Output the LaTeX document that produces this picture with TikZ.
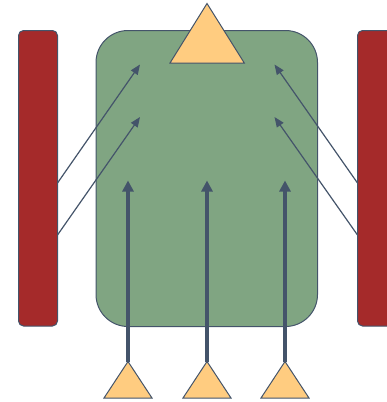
\documentclass[tikz,border=0pt]{standalone}
\usetikzlibrary{arrows.meta}
\definecolor{barred}{RGB}{165,42,42}
\definecolor{boxgreen}{RGB}{128,165,130}
\definecolor{triyellow}{RGB}{255,204,128}
\definecolor{edge}{RGB}{68,84,106}
\tikzset{
  bar/.style={draw=edge,line width=1pt,fill=barred,rounded corners=5pt},
  mainbox/.style={draw=edge,line width=1pt,fill=boxgreen,rounded corners=32pt},
  tri/.style={draw=edge,line width=1pt,fill=triyellow,line join=miter},
  thinarrow/.style={draw=edge,line width=1.2pt,-{Triangle[length=10pt,width=8pt]}},
  thickarrow/.style={draw=edge,line width=3.8pt,-{Triangle[length=11pt,width=11pt]}}
}
\begin{document}
\begin{tikzpicture}[x=1pt,y=-1pt]
\useasboundingbox (0,0) rectangle (387,402);
\clip (0,0) rectangle (387,402);
% bars
\draw[bar] (18.5,30.5) rectangle (57.5,326) coordinate (lbarcorner);
\draw[bar] (357.5,30.5) rectangle (396.5,326);
% main box
\draw[mainbox] (96,30.5) rectangle (317.5,326.5);
% top triangle
\draw[tri] (207,3.5) -- (244.3,63) -- (170,63) -- cycle;
% connector anchors
\coordinate (l1) at (57.5,183);
\coordinate (l2) at (57.5,235);
\coordinate (r1) at (357.5,183);
\coordinate (r2) at (357.5,235);
\coordinate (lt1) at (140,64.5);
\coordinate (lt2) at (140,117);
\coordinate (rt1) at (274.5,64.5);
\coordinate (rt2) at (274.5,117);
\foreach \n/\x in {a/128,b/207,c/285}{
  \coordinate (apex\n) at (\x,361.5);
  \coordinate (tip\n) at (\x,180.5);
}
% thick arrows
\foreach \n in {a,b,c}{
  \draw[thickarrow] (apex\n) -- (tip\n);
}
% bottom triangles
\foreach \x in {128,207,285}{
  \draw[tri] (\x,361.5) -- (\x+24,398) -- (\x-24,398) -- cycle;
}
% thin arrows
\draw[thinarrow] (l1) -- (lt1);
\draw[thinarrow] (l2) -- (lt2);
\draw[thinarrow] (r1) -- (rt1);
\draw[thinarrow] (r2) -- (rt2);
\end{tikzpicture}
\end{document}
